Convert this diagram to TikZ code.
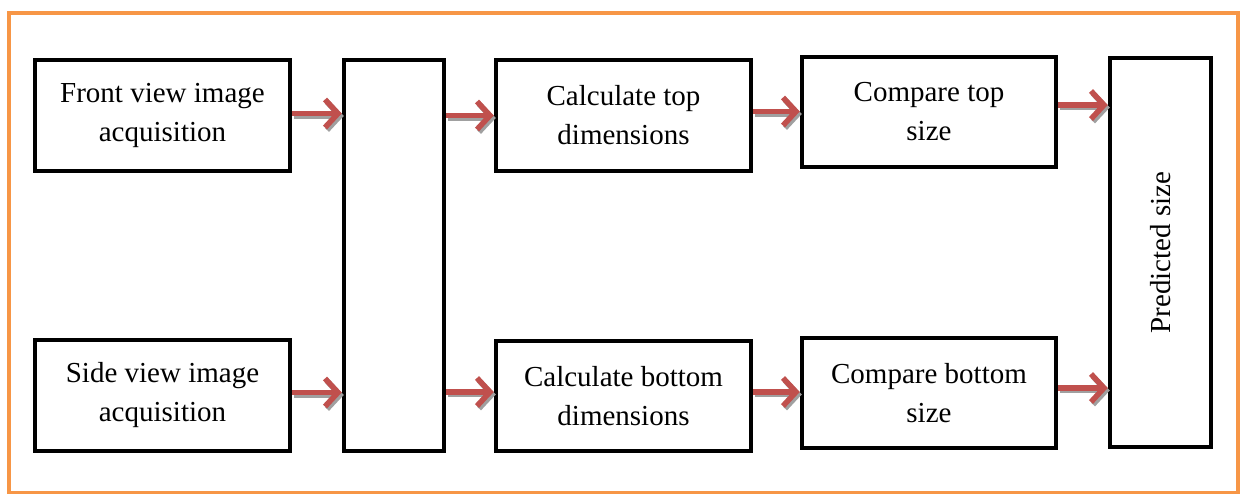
\documentclass[tikz,border=0pt]{standalone}
\usepackage{fontspec}
\setmainfont{Liberation Serif}
\usetikzlibrary{arrows.meta}
\definecolor{frameorange}{HTML}{F79646}
\definecolor{arrowred}{HTML}{C0504D}
\definecolor{shadowgray}{HTML}{A0A0A0}
\tikzset{
  box/.style={draw=black, line width=4.5pt, fill=white, align=center, inner sep=0pt,
    font=\fontsize{29}{39}\selectfont},
  flowtip/.style={line width=5.5pt, -{Straight Barb[length=13pt,width=28pt]}},
  flow/.style={flowtip, draw=arrowred},
  flowshadow/.style={flowtip, draw=shadowgray, transform canvas={shift={(2pt,-2.5pt)}}}
}
\newcommand\flowarrow[2]{%
  \draw[flowshadow] #1 -- #2;
  \draw[flow] #1 -- #2;}
\begin{document}
\begin{tikzpicture}[x=1pt,y=-1pt]
\useasboundingbox (0,0) rectangle (1240,494);
\draw[frameorange, line width=4pt] (8.5,13.5) rectangle (1237.5,493);

\node[box, minimum width=255pt, minimum height=111pt] (front) at (162.5,115.5) {Front view image\\acquisition};
\node[box, minimum width=255pt, minimum height=111pt] (side) at (162.5,395.5) {Side view image\\acquisition};
\node[box, minimum width=100pt, minimum height=391pt] (tall) at (394,255.5) {};
\node[box, minimum width=255pt, minimum height=111pt] (calctop) at (623.5,115.5) {Calculate top\\dimensions};
\node[box, minimum width=255pt, minimum height=110pt] (calcbot) at (623.5,396) {Calculate bottom\\dimensions};
\node[box, minimum width=254pt, minimum height=110pt] (cmptop) at (929,112) {Compare top\\size};
\node[box, minimum width=254pt, minimum height=110pt] (cmpbot) at (929,393) {Compare bottom\\size};
\node[box, minimum width=101pt, minimum height=389pt] (pred) at (1160.5,252.5) {};
\node[font=\fontsize{29}{39}\selectfont, rotate=90] (predtext) at (pred.center) {Predicted size};

\flowarrow{([yshift=2pt]front.east)}{([yshift=2pt]front.east -| tall.west)}
\flowarrow{([yshift=3pt]side.east)}{([yshift=3pt]side.east -| tall.west)}
\flowarrow{(tall.east |- calctop.east)}{(calctop.west)}
\flowarrow{([yshift=4pt]tall.east |- calcbot.east)}{([yshift=4pt]calcbot.west)}
\flowarrow{([yshift=4pt]calctop.east)}{([yshift=4pt]calctop.east -| cmptop.west)}
\flowarrow{([yshift=4pt]calcbot.east)}{([yshift=4pt]calcbot.east -| cmpbot.west)}
\flowarrow{([yshift=7pt]cmptop.east)}{([yshift=7pt]cmptop.east -| pred.west)}
\flowarrow{([yshift=5pt]cmpbot.east)}{([yshift=5pt]cmpbot.east -| pred.west)}
\end{tikzpicture}
\end{document}
